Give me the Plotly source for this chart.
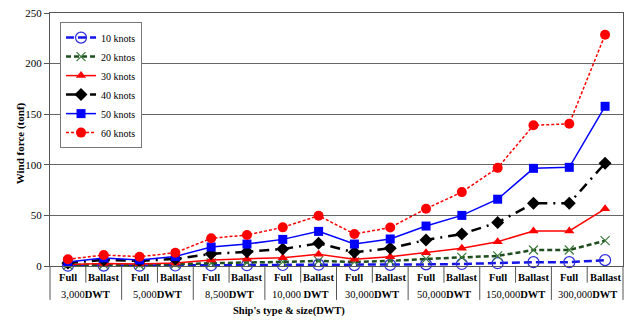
import plotly.graph_objects as go

# Ship groups and loading conditions along the category axis
ship_sizes = ["3,000", "5,000", "8,500", "10,000 ", "30,000", "50,000", "150,000", "300,000"]
conditions = ["Full", "Ballast"]

# Wind force (tonf) per wind speed, ordered Full/Ballast within each ship size
wind_10 = [0.3, 0.4, 0.3, 0.5, 0.7, 0.8, 1.0, 1.3, 0.9, 1.1, 1.6, 2.0, 2.8, 3.8, 3.8, 5.8]
wind_20 = [1.0, 1.5, 1.0, 2.0, 3.0, 3.5, 4.0, 5.0, 4.0, 5.0, 7.0, 8.6, 10.0, 15.8, 15.8, 25.0]
wind_30 = [1.5, 2.5, 2.0, 3.0, 6.0, 6.8, 8.2, 11.5, 6.6, 9.2, 13.0, 17.5, 24.0, 34.6, 34.6, 56.5]
wind_40 = [3.0, 6.0, 5.0, 7.0, 12.0, 14.0, 16.8, 22.4, 13.5, 17.5, 25.7, 31.6, 43.0, 62.0, 62.0, 101.5]
wind_50 = [4.0, 8.0, 6.0, 9.5, 18.8, 21.7, 26.3, 34.2, 21.7, 26.7, 39.5, 50.0, 66.0, 96.5, 97.5, 157.8]
wind_60 = [6.6, 10.9, 9.2, 13.1, 27.4, 30.6, 38.2, 49.7, 31.6, 38.0, 56.6, 73.0, 97.0, 139.0, 140.5, 228.5]

y_ticks = [0, 50, 100, 150, 200, 250]

n_cat = len(ship_sizes) * len(conditions)
xs = list(range(n_cat))

SERIF = "Liberation Serif"

series = [
    ("10 knots", wind_10, dict(color="#1414E6", width=2.5, dash="8px,4px"),
     dict(symbol="circle-open", size=11, color="#2B2BD9", line=dict(width=1.2))),
    ("20 kntos", wind_20, dict(color="#1E4D1E", width=2.5, dash="5px,3px"),
     dict(symbol="x-thin-open", size=9, color="#3C7A3C", line=dict(width=1.2, color="#3C7A3C"))),
    ("30 knots", wind_30, dict(color="#FF0000", width=1.5),
     dict(symbol="triangle-up", size=9, color="#FF0000")),
    ("40 knots", wind_40, dict(color="#000000", width=2.5, dash="10px,6px,2px,6px"),
     dict(symbol="diamond", size=10, color="#000000")),
    ("50 knots", wind_50, dict(color="#0000FF", width=1.5),
     dict(symbol="square", size=9, color="#0000FF")),
    ("60 knots", wind_60, dict(color="#FF0000", width=1.5, dash="3px,2px"),
     dict(symbol="circle", size=10, color="#FF0000")),
]

fig = go.Figure()
for name, vals, line, marker in series:
    fig.add_trace(go.Scatter(
        x=xs, y=vals, name=name, mode="lines+markers",
        line=line, marker=marker, cliponaxis=False,
    ))

# Two-row category table under the plot: condition row and ship size row
annotations = []
shapes = []
for i in range(n_cat):
    annotations.append(dict(
        x=i, y=-0.044, xref="x", yref="paper", text="<b>" + conditions[i % 2] + "</b>",
        showarrow=False, font=dict(family=SERIF, size=10.5, color="#000"),
        xanchor="center", yanchor="middle",
    ))
for g, size in enumerate(ship_sizes):
    annotations.append(dict(
        x=2 * g + 0.5, y=-0.111, xref="x", yref="paper",
        text=size + "<b>DWT</b>", showarrow=False,
        font=dict(family=SERIF, size=10.5, color="#000"),
        xanchor="center", yanchor="middle",
    ))

for k in range(n_cat + 1):
    px = k / n_cat
    y_end = -0.134 if k % 2 == 0 else -0.066
    shapes.append(dict(
        type="line", xref="paper", yref="paper", x0=px, x1=px, y0=0, y1=y_end,
        line=dict(color="#555555", width=1),
    ))

annotations.append(dict(
    x=0.417, y=-0.178, xref="paper", yref="paper", text="<b>Ship's type & size(DWT)</b>",
    showarrow=False, font=dict(family=SERIF, size=10.5, color="#000"),
    xanchor="center", yanchor="middle",
))
annotations.append(dict(
    x=-0.052, y=0.486, xref="paper", yref="paper", text="<b>Wind force (tonf)</b>",
    showarrow=False, textangle=-90, font=dict(family=SERIF, size=11, color="#000"),
    xanchor="center", yanchor="middle",
))

fig.update_layout(
    width=628, height=320,
    margin=dict(l=50, r=5, t=13, b=54),
    paper_bgcolor="white", plot_bgcolor="white",
    font=dict(family=SERIF, size=11, color="#000"),
    showlegend=True,
    legend=dict(
        x=0.0175, y=0.964, xanchor="left", yanchor="top",
        bgcolor="white", bordercolor="#777777", borderwidth=1,
        font=dict(family=SERIF, size=10, color="#000"),
        itemwidth=30, tracegroupgap=0,
    ),
    xaxis=dict(
        range=[-0.5, n_cat - 0.5], showticklabels=False, showgrid=False,
        zeroline=False, showline=True, linecolor="#555555", linewidth=1,
        mirror=True, ticks="",
    ),
    yaxis=dict(
        range=[0, 250], tickvals=y_ticks, showgrid=True, gridcolor="#666666",
        gridwidth=1, zeroline=False, showline=True, linecolor="#555555",
        linewidth=1, mirror=True, ticks="outside", ticklen=5, tickcolor="#555555",
        tickfont=dict(family=SERIF, size=11, color="#000"),
    ),
    annotations=annotations,
    shapes=shapes,
)

fig.write_html("out.html")
